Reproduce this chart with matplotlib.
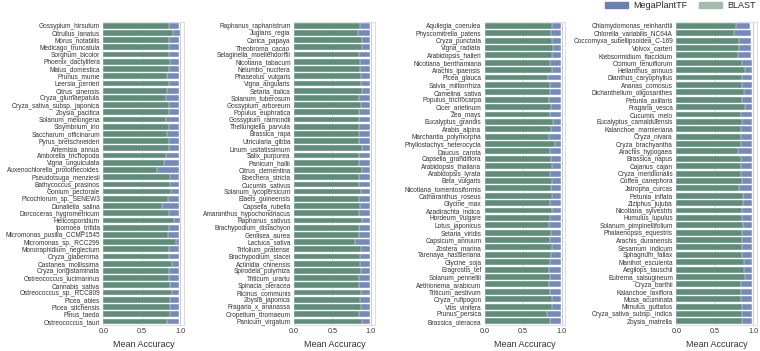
import numpy as np
import matplotlib.pyplot as plt
import matplotlib.patches as mpatches
import seaborn as sns

sns.set_style("whitegrid")
plt.rcParams['font.family'] = ['Liberation Sans', 'DejaVu Sans']

# species per panel (top to bottom)
species_1 = ["Gossypium_hirsutum", "Citrullus_lanatus", "Morus_notabilis", "Medicago_truncatula",
             "Sorghum_bicolor", "Phoenix_dactylifera", "Malus_domestica", "Prunus_mume",
             "Leersia_perrieri", "Citrus_sinensis", "Oryza_glumaepatula", "Oryza_sativa_subsp._japonica",
             "Zoysia_pacifica", "Solanum_melongena", "Sisymbrium_irio", "Saccharum_officinarum",
             "Pyrus_bretschneideri", "Artemisia_annua", "Amborella_trichopoda", "Vigna_unguiculata",
             "Auxenochlorella_protothecoides", "Pseudotsuga_menziesii", "Bathycoccus_prasinos",
             "Gonium_pectorale", "Picochlorum_sp._SENEW3", "Dunaliella_salina",
             "Dorcoceras_hygrometricum", "Helicosporidium", "Ipomoea_trifida",
             "Micromonas_pusilla_CCMP1545", "Micromonas_sp._RCC299", "Monoraphidium_neglectum",
             "Oryza_glaberrima", "Castanea_mollissima", "Oryza_longistaminata",
             "Ostreococcus_lucimarinus", "Cannabis_sativa", "Ostreococcus_sp._RCC809",
             "Picea_abies", "Picea_sitchensis", "Pinus_taeda", "Ostreococcus_tauri"]
blast_1 = [0.86, 0.91, 0.85, 0.85, 0.85, 0.87, 0.85, 0.83, 0.85, 0.83, 0.82, 0.85,
           0.85, 0.82, 0.85, 0.83, 0.85, 0.85, 0.81, 0.79, 0.70, 0.87, 0.87, 0.88,
           0.84, 0.77, 0.85, 0.92, 0.86, 0.84, 0.95, 0.85, 0.85, 0.89, 0.85, 0.85,
           0.87, 0.89, 0.87, 0.87, 0.87, 0.83]
mega_1 = [0.99, 1.0, 0.99, 0.99, 0.99, 0.99, 0.99, 0.99, 0.99, 0.99, 0.99, 0.99,
          0.99, 0.99, 0.99, 0.99, 0.99, 0.99, 0.99, 0.99, 0.99, 0.99, 0.99, 0.99,
          0.99, 0.99, 0.99, 1.0, 0.99, 0.99, 0.99, 0.99, 0.99, 0.99, 0.99, 0.99,
          0.99, 0.99, 0.99, 0.99, 0.99, 0.99]

species_2 = ["Raphanus_raphanistrum", "Juglans_regia", "Carica_papaya", "Theobroma_cacao",
             "Selaginella_moellendorffii", "Nicotiana_tabacum", "Nelumbo_nucifera",
             "Phaseolus_vulgaris", "Vigna_angularis", "Setaria_italica", "Solanum_tuberosum",
             "Gossypium_arboreum", "Populus_euphratica", "Gossypium_raimondii",
             "Thellungiella_parvula", "Brassica_rapa", "Utricularia_gibba", "Linum_usitatissimum",
             "Salix_purpurea", "Panicum_hallii", "Citrus_clementina", "Boechera_stricta",
             "Cucumis_sativus", "Solanum_lycopersicum", "Elaeis_guineensis", "Capsella_rubella",
             "Amaranthus_hypochondriacus", "Raphanus_sativus", "Brachypodium_distachyon",
             "Genlisea_aurea", "Lactuca_sativa", "Trifolium_pratense", "Brachypodium_stacei",
             "Actinidia_chinensis", "Spirodela_polyrhiza", "Triticum_urartu", "Spinacia_oleracea",
             "Ricinus_communis", "Zoysia_japonica", "Fragaria_x_ananassa", "Oropetium_thomaeum",
             "Panicum_virgatum"]
blast_2 = [0.86, 0.83, 0.89, 0.88, 0.85, 0.86, 0.86, 0.87, 0.87, 0.89, 0.84, 0.87,
           0.84, 0.85, 0.85, 0.85, 0.85, 0.88, 0.84, 0.84, 0.88, 0.85, 0.85, 0.87,
           0.85, 0.86, 0.85, 0.88, 0.84, 0.85, 0.79, 0.87, 0.86, 0.86, 0.87, 0.85,
           0.85, 0.87, 0.86, 0.87, 0.85, 0.88]
mega_2 = [0.99, 0.99, 0.99, 0.99, 0.99, 0.99, 0.99, 0.99, 0.99, 0.99, 0.99, 0.99,
          0.99, 0.99, 0.99, 0.99, 0.99, 0.99, 0.99, 0.99, 0.99, 0.99, 0.99, 0.99,
          0.99, 0.99, 0.99, 0.99, 0.99, 0.99, 0.99, 0.99, 0.99, 0.99, 0.99, 0.99,
          0.99, 0.99, 0.99, 0.99, 0.99, 0.99]

species_3 = ["Aquilegia_coerulea", "Physcomitrella_patens", "Oryza_punctata", "Vigna_radiata",
             "Arabidopsis_halleri", "Nicotiana_benthamiana", "Arachis_ipaensis", "Picea_glauca",
             "Salvia_miltiorrhiza", "Camelina_sativa", "Populus_trichocarpa", "Cicer_arietinum",
             "Zea_mays", "Eucalyptus_grandis", "Arabis_alpina", "Marchantia_polymorpha",
             "Phyllostachys_heterocycla", "Daucus_carota", "Capsella_grandiflora",
             "Arabidopsis_thaliana", "Arabidopsis_lyrata", "Beta_vulgaris",
             "Nicotiana_tomentosiformis", "Catharanthus_roseus", "Glycine_max",
             "Azadirachta_indica", "Hordeum_vulgare", "Lotus_japonicus", "Setaria_viridis",
             "Capsicum_annuum", "Zostera_marina", "Tarenaya_hassleriana", "Glycine_soja",
             "Eragrostis_tef", "Solanum_pennellii", "Aethionema_arabicum", "Triticum_aestivum",
             "Oryza_rufipogon", "Vitis_vinifera", "Prunus_persica", "Brassica_oleracea"]
blast_3 = [0.88, 0.86, 0.88, 0.89, 0.88, 0.85, 0.88, 0.82, 0.85, 0.85, 0.83, 0.86,
           0.85, 0.89, 0.86, 0.84, 0.91, 0.85, 0.86, 0.88, 0.85, 0.88, 0.86, 0.88,
           0.85, 0.88, 0.85, 0.84, 0.86, 0.85, 0.88, 0.86, 0.85, 0.83, 0.85, 0.83,
           0.85, 0.87, 0.88, 0.81, 0.85]
mega_3 = [0.99, 0.99, 0.99, 0.99, 0.99, 0.99, 0.99, 0.99, 0.99, 0.99, 0.99, 0.99,
          0.99, 0.99, 0.99, 0.99, 0.99, 0.99, 0.99, 0.99, 0.99, 0.99, 0.99, 0.99,
          0.99, 0.99, 0.99, 0.99, 0.99, 0.99, 0.99, 0.99, 0.99, 0.99, 0.99, 0.99,
          0.99, 0.99, 0.99, 0.99, 0.99]

species_4 = ["Chlamydomonas_reinhardtii", "Chlorella_variabilis_NC64A",
             "Coccomyxa_subellipsoidea_C-169", "Volvox_carteri", "Klebsormidium_flaccidum",
             "Ocimum_tenuiflorum", "Helianthus_annuus", "Dianthus_caryophyllus", "Ananas_comosus",
             "Dichanthelium_oligosanthes", "Petunia_axillaris", "Fragaria_vesca", "Cucumis_melo",
             "Eucalyptus_camaldulensis", "Kalanchoe_marnieriana", "Oryza_nivara",
             "Oryza_brachyantha", "Arachis_hypogaea", "Brassica_napus", "Cajanus_cajan",
             "Oryza_meridionalis", "Coffea_canephora", "Jatropha_curcas", "Petunia_inflata",
             "Ziziphus_jujuba", "Nicotiana_sylvestris", "Humulus_lupulus",
             "Solanum_pimpinellifolium", "Phalaenopsis_equestris", "Arachis_duranensis",
             "Sesamum_indicum", "Sphagnum_fallax", "Manihot_esculenta", "Aegilops_tauschii",
             "Eutrema_salsugineum", "Oryza_barthii", "Kalanchoe_laxiflora", "Musa_acuminata",
             "Mimulus_guttatus", "Oryza_sativa_subsp._indica", "Zoysia_matrella"]
blast_4 = [0.78, 0.75, 0.81, 0.82, 0.80, 0.85, 0.89, 0.85, 0.86, 0.88, 0.86, 0.90,
           0.84, 0.85, 0.84, 0.84, 0.84, 0.80, 0.84, 0.84, 0.84, 0.86, 0.81, 0.87,
           0.87, 0.86, 0.86, 0.87, 0.85, 0.86, 0.86, 0.86, 0.88, 0.88, 0.89, 0.84,
           0.84, 0.84, 0.86, 0.86, 0.85]
mega_4 = [0.96, 0.97, 0.97, 0.97, 0.97, 0.99, 0.99, 0.99, 0.99, 0.99, 0.99, 0.99,
          0.99, 0.99, 0.99, 0.99, 0.99, 0.99, 0.99, 0.99, 0.99, 0.99, 0.99, 0.99,
          0.99, 0.99, 0.99, 0.99, 0.99, 0.99, 0.99, 0.99, 0.99, 0.99, 0.99, 0.99,
          0.99, 0.99, 0.99, 0.99, 0.99]

panels = [(species_1, mega_1, blast_1), (species_2, mega_2, blast_2),
          (species_3, mega_3, blast_3), (species_4, mega_4, blast_4)]

mega_color = '#7689bb'
blast_color = '#5e8d7a'

fig = plt.figure(figsize=(7.6, 3.51), dpi=100)
lefts = [0.136, 0.387, 0.638, 0.890]
width = 0.106
bottom, top = 0.074, 0.937

for left, (names, mega, blast) in zip(lefts, panels):
    ax = fig.add_axes([left, bottom, width, top - bottom])
    y = np.arange(len(names))
    ax.barh(y, mega, height=0.8, color=mega_color, edgecolor='white', linewidth=0.3, zorder=2)
    ax.barh(y, blast, height=0.8, color=blast_color, edgecolor='white', linewidth=0.3, zorder=3)
    ax.set_yticks(y)
    ax.set_yticklabels(names, fontsize=4.7, color='#333333')
    ax.set_ylim(len(names) - 0.5, -0.5)
    ax.set_xlim(0, 1.05)
    ax.set_xticks([0.0, 0.5, 1.0])
    ax.set_xticklabels(['0.0', '0.5', '1.0'], fontsize=5.2, color='#333333')
    ax.tick_params(axis='both', length=0, pad=2.5)
    ax.set_xlabel('Mean Accuracy', fontsize=6.5, color='#333333', labelpad=3)
    ax.grid(axis='y', visible=False)
    for s in ax.spines.values():
        s.set_edgecolor('#dddddd')
        s.set_linewidth(0.8)

handles = [mpatches.Patch(color='#6b7fb3', label='MegaPlantTF'),
           mpatches.Patch(color='#a3bbad', label='BLAST')]
fig.legend(handles=handles, loc='upper right', bbox_to_anchor=(1.005, 1.02), ncol=2,
           frameon=False, fontsize=6.5, handlelength=2.5, handleheight=0.6,
           columnspacing=1.3, handletextpad=0.6)

fig.savefig('out.png', dpi=100)
